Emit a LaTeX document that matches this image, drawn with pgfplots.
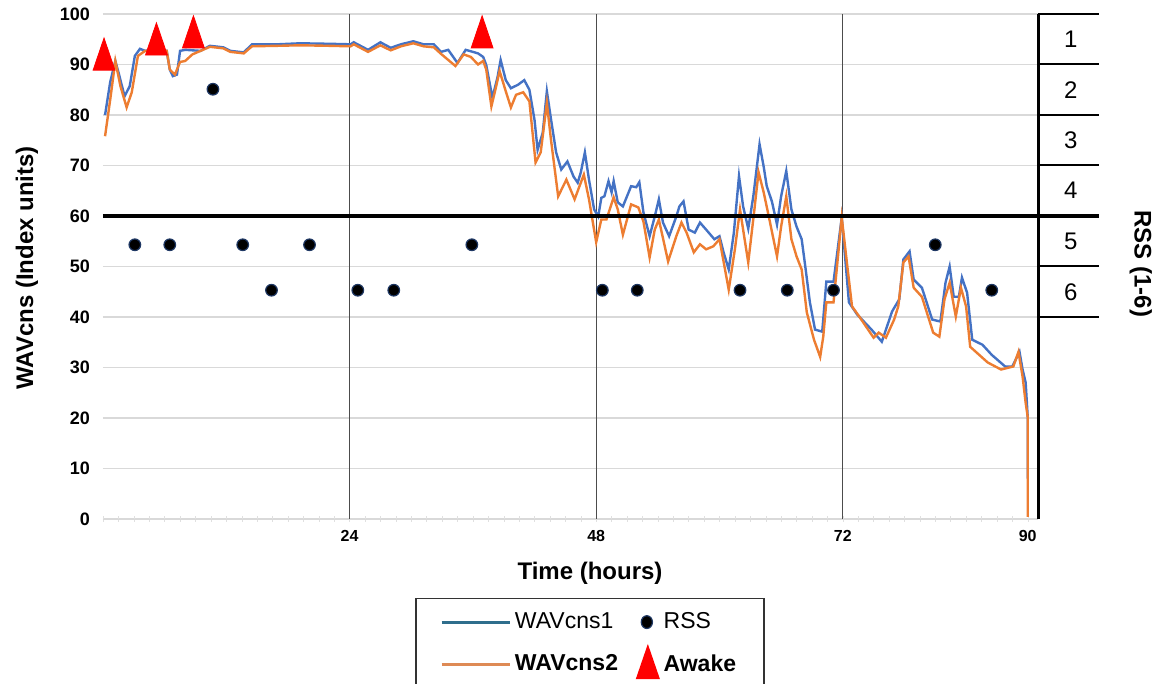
\documentclass[border=0pt]{standalone}
\usepackage{fontspec}
\setmainfont{Liberation Sans}
\usepackage{pgfplots}
\pgfplotsset{compat=1.18}
\definecolor{wblue}{HTML}{4472C4}
\definecolor{worange}{HTML}{ED7D31}
\definecolor{lgblue}{HTML}{2F6E8C}
\definecolor{lgorange}{HTML}{DE8A55}
\definecolor{rssnavy}{HTML}{1F3864}

\pgfplotstableread{
x y
0.2 80
0.7 86.5
1.2 90.7
1.5 88.5
2.1 83.7
2.6 85.7
3.1 91.7
3.6 93.1
4.1 92.7
5.0 93.0
6.2 92.7
6.5 89.0
6.8 87.7
7.2 88.0
7.5 92.7
8.0 92.9
9.5 92.7
10.4 93.7
11.7 93.4
12.4 92.7
13.7 92.4
14.5 94.0
17.0 94.0
19.2 94.2
22.0 94.1
24.1 94.0
24.4 94.4
25.8 92.9
27.0 94.4
28.0 93.3
29.0 94.0
30.2 94.6
31.2 94.0
32.2 94.0
32.9 92.5
33.6 92.9
34.5 90.3
35.3 92.9
36.0 92.5
36.5 92.2
37.0 91.5
37.3 89.9
37.9 83.4
38.4 87.5
38.7 90.9
39.2 86.9
39.7 85.3
40.4 86.0
41.0 86.9
41.5 85.0
42.0 79.0
42.3 73.1
42.8 76.5
43.2 84.7
43.6 79.2
44.1 72.6
44.6 69.2
45.2 70.8
45.8 67.8
46.2 66.6
46.5 68.6
46.9 72.6
47.3 67.2
47.8 61.3
48.2 59.9
48.5 63.6
48.8 63.9
49.2 66.9
49.5 64.7
49.7 66.9
50.1 62.7
50.6 61.9
51.4 65.9
51.9 65.7
52.2 66.7
52.6 60.7
53.2 56.0
53.7 59.9
54.1 63.3
54.5 58.7
55.1 56.0
55.8 59.9
56.1 61.9
56.5 62.9
57.0 57.3
57.6 56.7
58.1 58.7
58.7 57.3
59.5 55.4
60.0 56.0
60.4 52.8
60.9 49.4
61.4 56.7
61.9 67.9
62.3 61.9
62.8 57.5
63.3 64.0
63.9 74.2
64.3 69.8
64.6 65.9
65.1 62.9
65.6 58.3
66.0 63.9
66.5 68.9
67.0 61.3
67.5 57.9
68.0 55.4
68.3 50.8
68.8 42.9
69.3 37.5
70.0 37.1
70.4 47.0
71.1 47.0
71.9 59.7
72.6 42.9
73.4 40.5
74.8 37.5
75.8 35.1
76.3 38.1
76.8 41.1
77.5 43.5
77.9 51.4
78.5 53.0
78.9 47.4
79.7 45.8
80.7 39.5
81.5 39.1
82.0 46.8
82.4 50.0
82.8 44.0
83.3 44.0
83.6 47.8
84.1 44.8
84.6 35.5
85.6 34.5
86.5 32.5
87.8 30.2
88.5 30.2
89.2 33.1
89.5 29.6
89.8 27.0
90.0 20.2
90.0 8.0
}\wavone

\pgfplotstableread{
x y
0.2 75.8
0.7 83.0
1.2 90.7
1.7 85.7
2.3 81.5
2.8 84.5
3.4 91.7
4.1 92.7
6.2 92.7
6.5 89.0
7.0 88.0
7.5 90.5
8.0 90.7
8.7 92.0
9.5 92.7
10.4 93.5
11.7 93.2
12.4 92.5
13.7 92.2
14.5 93.6
17.0 93.7
19.2 93.8
22.0 93.7
24.1 93.6
24.4 94.0
25.8 92.5
27.0 93.8
28.0 92.8
29.0 93.6
30.2 94.2
31.2 93.6
32.2 93.4
32.9 92.1
34.3 89.7
35.1 92.0
35.8 91.5
36.5 90.0
37.0 90.7
37.3 89.0
37.8 81.7
38.2 85.1
38.6 88.7
39.2 84.7
39.7 81.5
40.2 84.0
40.9 84.5
41.5 82.7
42.1 70.6
42.6 72.6
43.2 82.4
43.6 75.1
44.3 63.9
45.1 67.2
45.9 63.3
46.8 68.2
47.3 63.3
48.0 54.8
48.5 59.3
49.0 59.3
49.7 63.7
50.1 61.3
50.6 56.3
51.4 62.3
52.1 61.7
52.6 58.9
53.2 51.8
53.7 57.3
54.1 59.3
55.0 51.0
55.8 56.0
56.3 58.7
56.8 56.7
57.5 52.8
58.1 54.4
58.7 53.4
59.4 54.0
60.0 55.4
60.9 45.4
61.5 53.4
62.0 61.3
62.4 56.0
62.8 50.8
63.4 61.3
63.8 68.7
64.3 64.7
64.8 59.9
65.6 52.0
66.0 57.9
66.5 63.9
67.0 55.4
67.5 52.0
68.0 49.4
68.5 40.9
69.2 35.5
69.8 32.1
70.1 36.1
70.4 42.9
71.1 42.9
71.9 59.7
72.4 50.8
72.9 42.1
73.6 40.1
75.0 35.9
75.5 36.9
76.2 35.9
77.0 39.5
77.4 42.1
77.9 50.8
78.4 52.0
78.9 45.8
79.7 44.0
80.8 36.9
81.4 36.1
81.9 43.5
82.4 46.8
83.0 40.1
83.5 45.8
84.0 42.1
84.4 34.1
86.1 31.0
87.4 29.6
88.6 30.2
89.1 33.1
89.5 28.2
89.8 23.0
90.0 20.2
90.0 0.4
}\wavtwo

\pgfplotstableread{
x y
3.1 54.3
6.5 54.3
10.7 85.1
13.6 54.3
16.4 45.3
20.1 54.3
24.8 45.3
28.3 45.3
35.9 54.3
48.6 45.3
52.0 45.3
62.0 45.3
66.6 45.3
71.1 45.3
81.0 54.3
86.5 45.3
}\rss

\pgfplotstableread{
x y
0.1 91.0
5.2 94.0
8.8 95.4
36.9 95.4
}\awake

\begin{document}
\begin{tikzpicture}
\begin{axis}[
  at={(0,0)}, anchor=south west,
  width=467.5pt, height=252.5pt, scale only axis,
  xmin=0, xmax=91, ymin=0, ymax=100,
  clip=false,
  axis x line*=bottom, axis y line*=left,
  x axis line style={draw=black!15, -},
  y axis line style={draw=none},
  xtick={24,48,72,90},
  ytick={0,10,...,100},
  minor xtick={0,1.5,...,90},
  major tick length=0pt,
  minor tick length=3pt,
  tick align=center,
  minor tick style={draw=black!12},
  ymajorgrids,
  grid style={draw=black!15, line width=0.7pt},
  /pgf/number format/assume math mode=true,
  yticklabel style={font=\bfseries\fontsize{9}{10}\selectfont, xshift=-3pt},
  xticklabel style={font=\bfseries\fontsize{8}{9}\selectfont, yshift=-2pt},
  legend columns=2,
  legend cell align=left,
  legend style={at={(axis cs:30.4,-15.6)}, anchor=north west,
    draw=black!80, line width=0.8pt,
    font=\fontsize{11.5}{13}\selectfont,
    inner xsep=12pt, inner ysep=5pt, row sep=5pt,
    /tikz/every even column/.append style={column sep=7pt}},
]
\addlegendimage{legend image code/.code={\draw[lgblue, line width=1.4pt] (0pt,0pt) -- (34pt,0pt);}}
\addlegendentry{WAVcns1}
\addlegendimage{legend image code/.code={\fill[black, draw=rssnavy, line width=0.6pt] (5pt,0pt) ellipse (2.8pt and 3.2pt);}}
\addlegendentry{RSS}
\addlegendimage{legend image code/.code={\draw[lgorange, line width=1.4pt] (0pt,0pt) -- (34pt,0pt);}}
\addlegendentry{\textbf{WAVcns2}}
\addlegendimage{legend image code/.code={\fill[red] (0pt,-7pt) -- (11pt,-7pt) -- (5.5pt,9pt) -- cycle;}}
\addlegendentry{\textbf{Awake}}

% vertical day lines
\draw[black!70, line width=0.6pt] (axis cs:24,0) -- (axis cs:24,100);
\draw[black!70, line width=0.6pt] (axis cs:48,0) -- (axis cs:48,100);
\draw[black!70, line width=0.6pt] (axis cs:72,0) -- (axis cs:72,100);

\addplot[forget plot, wblue, line width=1.2pt] table {\wavone};
\addplot[forget plot, worange, line width=1.2pt] table {\wavtwo};

% RSS scale on the right
\draw[line width=2pt] (axis cs:0,60) -- (axis cs:96.9,60);
\draw[line width=1.5pt] (axis cs:91,0) -- (axis cs:91,100);
\pgfplotsinvokeforeach{40,50,70,80,90,100}{
  \draw[line width=1pt] (axis cs:91,#1) -- (axis cs:96.9,#1);
}
\node[font=\fontsize{12}{14}\selectfont] at (axis cs:94.2,95) {1};
\node[font=\fontsize{12}{14}\selectfont] at (axis cs:94.2,85) {2};
\node[font=\fontsize{12}{14}\selectfont] at (axis cs:94.2,75) {3};
\node[font=\fontsize{12}{14}\selectfont] at (axis cs:94.2,65) {4};
\node[font=\fontsize{12}{14}\selectfont] at (axis cs:94.2,55) {5};
\node[font=\fontsize{12}{14}\selectfont] at (axis cs:94.2,45) {6};
\node[font=\bfseries\fontsize{12}{14}\selectfont, rotate=-90] at (axis cs:101,50.5) {RSS (1-6)};

\addplot[forget plot, only marks, mark=*, mark size=2.9pt,
  mark options={fill=black, draw=rssnavy, line width=0.6pt}] table {\rss};
\addplot[forget plot, only marks, mark=triangle*, mark size=6.3pt,
  mark options={fill=red, draw=red, yscale=1.7}] table {\awake};

\node[font=\bfseries\fontsize{12}{14}\selectfont, rotate=90] at (axis cs:-7.4,49.7) {WAVcns (Index units)};
\node[font=\bfseries\fontsize{12}{14}\selectfont] at (axis cs:47.4,-10.7) {Time (hours)};
\end{axis}
\pgfresetboundingbox
\path[use as bounding box] (-51.5pt,-82.5pt) rectangle (530pt,259.5pt);
\end{tikzpicture}
\end{document}
